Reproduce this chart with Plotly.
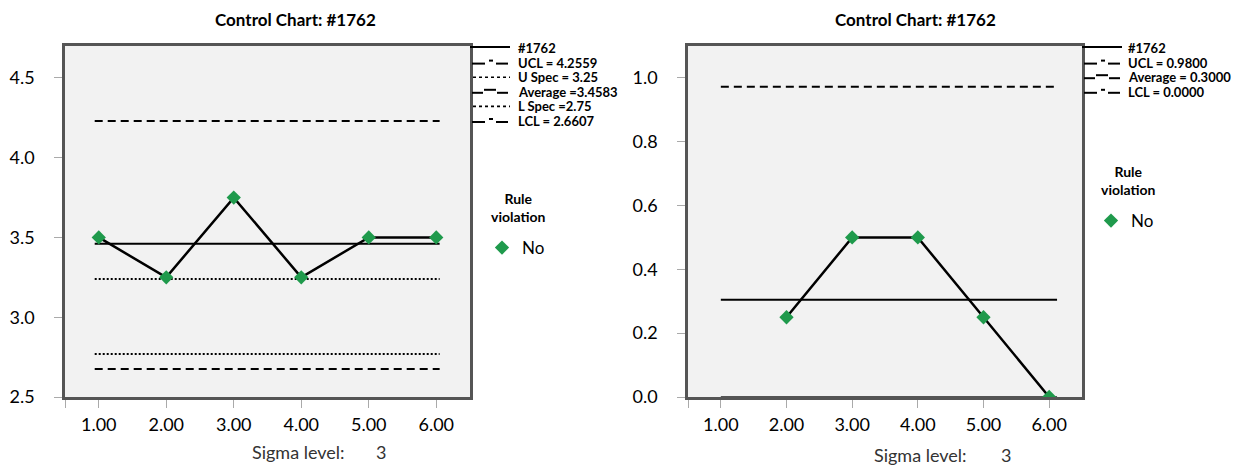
import plotly.graph_objects as go

# ---------------- data ----------------
categories = [1, 2, 3, 4, 5, 6]
tick_labels = ["1.00", "2.00", "3.00", "4.00", "5.00", "6.00"]

left_values = [3.5, 3.25, 3.75, 3.25, 3.5, 3.5]
right_values = [None, 0.25, 0.5, 0.5, 0.25, 0.0]

series_name = "#1762"
status_name = "No"
chart_title = "Control Chart: #1762"
legend_title = "Rule<br>violation"
sigma_label = "Sigma level:"
sigma_value = "3"

left_limit_names = ["UCL = 4.2559", "U Spec = 3.25", "Average =3.4583", "L Spec =2.75", "LCL = 2.6607"]
left_limit_values = [4.23, 3.24, 3.46, 2.77, 2.675]
left_limit_kinds = ["ctl", "spec", "avg", "spec", "ctl"]

right_limit_names = ["UCL = 0.9800", "Average = 0.3000", "LCL = 0.0000"]
right_limit_values = [0.972, 0.305, 0.0]
right_limit_kinds = ["ctl", "avg", "ctl"]

left_yticks = [2.5, 3.0, 3.5, 4.0, 4.5]
right_yticks = [0.0, 0.2, 0.4, 0.6, 0.8, 1.0]

# ---------------- styling ----------------
W, H = 1233, 465
FONT = "Lato"
GREEN = "#1f9a4c"
PLOT_BG = "#f2f2f2"
BORDER = "#555555"
dash_of = {"ctl": "8px,5px", "spec": "2px,2px", "avg": "solid"}


def px_x(p):
    return p / W


def px_y(p):
    return (H - p) / H


fig = go.Figure()

panels = [
    dict(xa="x", ya="y", vals=left_values, names=left_limit_names, lims=left_limit_values,
         kinds=left_limit_kinds, span=[0.94, 6.05], leg="legend",
         leg_left=470, leg_text=516, leg_top=48,
         rv_center=(518, 208), no_center=248, no_x=482,
         title_c=(295, 20), sigma=(298, 381, 452)),
    dict(xa="x2", ya="y2", vals=right_values, names=right_limit_names, lims=right_limit_values,
         kinds=right_limit_kinds, span=[1.0, 6.12], leg="legend2",
         leg_left=1082, leg_text=1126, leg_top=48,
         rv_center=(1128, 180), no_center=221, no_x=1091,
         title_c=(915, 20), sigma=(920, 1006, 455)),
]

for p in panels:
    fig.add_trace(go.Scatter(
        x=categories, y=p["vals"], mode="lines", name=series_name, showlegend=False,
        line=dict(color="black", width=2.5), xaxis=p["xa"], yaxis=p["ya"],
        connectgaps=False,
    ))
    for nm, v, k in zip(p["names"], p["lims"], p["kinds"]):
        on_axis = v <= 0
        fig.add_trace(go.Scatter(
            x=p["span"], y=[v, v], mode="lines", name=nm, showlegend=False,
            line=dict(color=BORDER if on_axis else "black", width=2,
                      dash="solid" if on_axis else dash_of[k]),
            xaxis=p["xa"], yaxis=p["ya"],
        ))
    fig.add_trace(go.Scatter(
        x=categories, y=p["vals"], mode="markers", name=status_name,
        marker=dict(symbol="diamond", size=11, color=GREEN, line=dict(width=0)),
        xaxis=p["xa"], yaxis=p["ya"], legend=p["leg"], showlegend=True,
    ))

    # custom Excel-like line legend
    L = p["leg_left"]
    names = [series_name] + p["names"]
    kinds = ["series"] + p["kinds"]
    for i, (nm, k) in enumerate(zip(names, kinds)):
        y = p["leg_top"] + i * 14.6
        segs = []
        if k == "series":
            segs = [(L, L + 40, y - 1, "solid", 2)]
        elif k == "spec":
            segs = [(L + 3, L + 40, y, "dot", 1.6)]
        elif k == "ctl":
            segs = [(L + 2, L + 15, y + 1, "solid", 2), (L + 19, L + 23, y - 2, "solid", 2),
                    (L + 26, L + 38, y + 1, "solid", 2)]
        elif k == "avg":
            segs = [(L + 2, L + 13, y + 1, "solid", 2), (L + 14, L + 26, y - 2, "solid", 2),
                    (L + 27, L + 38, y + 1, "solid", 2)]
        for x0, x1, yy, d, w in segs:
            fig.add_shape(type="line", xref="paper", yref="paper",
                          x0=px_x(x0), x1=px_x(x1), y0=px_y(yy), y1=px_y(yy),
                          line=dict(color="black", width=w, dash=d))
        fig.add_annotation(text=f"<b>{nm}</b>", x=px_x(p["leg_text"]), y=px_y(y),
                           xref="paper", yref="paper", xanchor="left", yanchor="middle",
                           showarrow=False, font=dict(family=FONT, size=13, color="black"))

    cx, cy = p["rv_center"]
    fig.add_annotation(text=f"<b>{legend_title}</b>", x=px_x(cx), y=px_y(cy),
                       xref="paper", yref="paper", xanchor="center", yanchor="middle",
                       align="center", showarrow=False,
                       font=dict(family=FONT, size=14, color="black"))

    tx, ty = p["title_c"]
    fig.add_annotation(text=f"<b>{chart_title}</b>", x=px_x(tx), y=px_y(ty),
                       xref="paper", yref="paper", xanchor="center", yanchor="middle",
                       showarrow=False, font=dict(family=FONT, size=17, color="black"))

    sx, s3, sy = p["sigma"]
    fig.add_annotation(text=sigma_label, x=px_x(sx), y=px_y(sy), xref="paper", yref="paper",
                       xanchor="center", yanchor="middle", showarrow=False,
                       font=dict(family=FONT, size=18, color="#333333"))
    fig.add_annotation(text=sigma_value, x=px_x(s3), y=px_y(sy), xref="paper", yref="paper",
                       xanchor="center", yanchor="middle", showarrow=False,
                       font=dict(family=FONT, size=18, color="#333333"))

axis_common = dict(
    showgrid=False, zeroline=False, showline=True, linecolor=BORDER, linewidth=2.5,
    mirror=True, ticks="outside", ticklen=8, tickcolor="#aaaaaa", tickwidth=1,
    tickfont=dict(family=FONT, size=18, color="black"), automargin=False,
)

xtickvals = [0.5] + categories
xticktext = [""] + tick_labels

legend_common = dict(xanchor="left", yanchor="middle", bgcolor="rgba(0,0,0,0)",
                     itemwidth=30, font=dict(family=FONT, size=17, color="black"))

fig.update_layout(
    width=W, height=H,
    margin=dict(l=0, r=0, t=0, b=0, pad=0, autoexpand=False),
    paper_bgcolor="white",
    plot_bgcolor=PLOT_BG,
    font=dict(family=FONT, color="black"),
    xaxis=dict(domain=[px_x(65), px_x(470)], range=[0.5, 6.5], tickvals=xtickvals,
               ticktext=xticktext, anchor="y", ticklabelstandoff=2, **axis_common),
    yaxis=dict(domain=[px_y(397), px_y(46)], range=[2.5, 4.7], tickvals=left_yticks,
               tickformat=".1f", anchor="x", ticklabelstandoff=16, **axis_common),
    xaxis2=dict(domain=[px_x(688), px_x(1082)], range=[0.5, 6.5], tickvals=xtickvals,
                ticktext=xticktext, anchor="y2", ticklabelstandoff=2, **axis_common),
    yaxis2=dict(domain=[px_y(397), px_y(46)], range=[0, 1.1], tickvals=right_yticks,
                tickformat=".1f", anchor="x2", ticklabelstandoff=16, **axis_common),
    legend=dict(x=px_x(panels[0]["no_x"]), y=px_y(panels[0]["no_center"]), **legend_common),
    legend2=dict(x=px_x(panels[1]["no_x"]), y=px_y(panels[1]["no_center"]), **legend_common),
    showlegend=True,
)

fig.write_html("out.html", config={"displayModeBar": False},
               post_script="document.body.style.margin='0px';")
